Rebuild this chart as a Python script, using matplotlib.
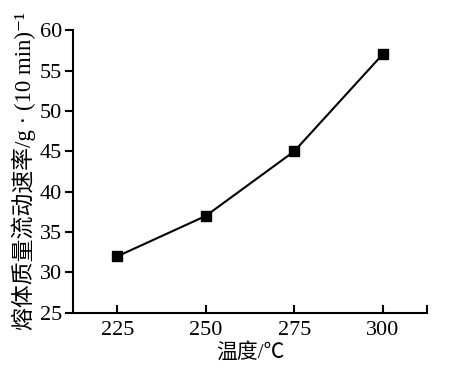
import matplotlib
matplotlib.use('Agg')
import matplotlib.pyplot as plt

# Data
temperature = [225, 250, 275, 300]
mfr = [32, 37, 45, 57]
x_ticks = [225, 250, 275, 300]
y_ticks = [25, 30, 35, 40, 45, 50, 55, 60]

fonts = ['Liberation Serif', 'Noto Sans CJK SC', 'DejaVu Sans']
plt.rcParams['font.family'] = fonts

fig = plt.figure(figsize=(4.6, 3.72), dpi=100)
ax = fig.add_axes([0.159, 0.159, 0.769, 0.760])

ax.plot(temperature, mfr, color='black', linewidth=1.5,
        marker='s', markersize=7, markerfacecolor='black')

ax.set_xlim(212.5, 312.5)
ax.set_ylim(25, 60)
ax.set_xticks(x_ticks + [312.5])
ax.set_xticklabels([str(t) for t in x_ticks] + [''])
ax.set_yticks(y_ticks)

for side in ('top', 'right'):
    ax.spines[side].set_visible(False)
for side in ('left', 'bottom'):
    ax.spines[side].set_linewidth(1.5)

ax.tick_params(axis='x', direction='in', length=6, width=1.5, labelsize=16, pad=6)
ax.tick_params(axis='y', direction='out', length=6, width=1.5, labelsize=16, pad=2)

ax.set_xlabel('温度/℃', fontsize=15, labelpad=2)
ax.set_ylabel('熔体质量流动速率/g · (10 min)⁻¹', fontsize=16.5, labelpad=3)

fig.savefig('out.png', dpi=100)
